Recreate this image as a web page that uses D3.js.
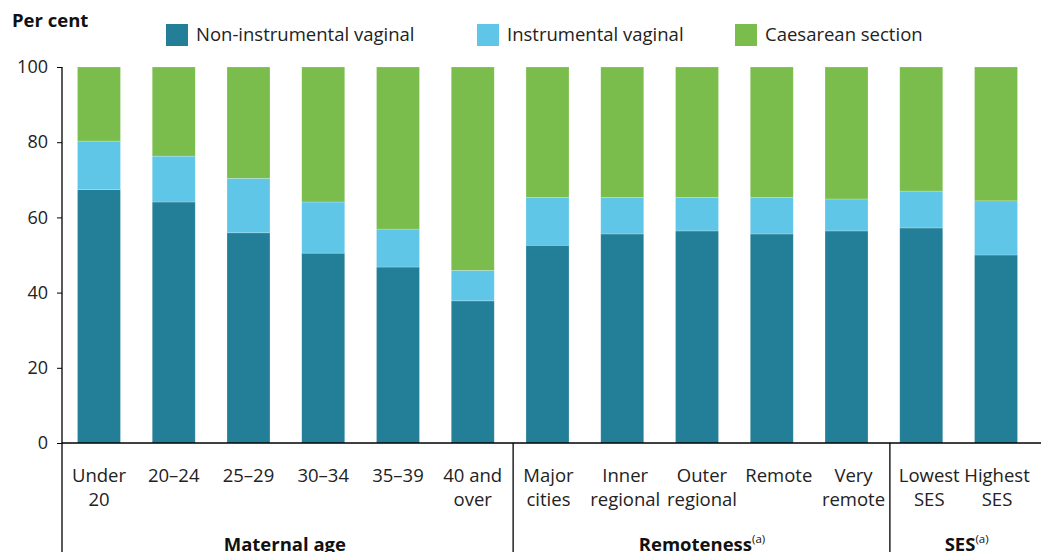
<!DOCTYPE html>
<html><head><meta charset="utf-8">
<script src="https://cdn.jsdelivr.net/npm/d3@7"></script>
<style>body{margin:0;background:#fff;}svg{display:block;font-family:"Open Sans",sans-serif;}</style>
</head><body>
<svg id="c" width="1041" height="552"></svg>
<script>
const categories = [
  ["Under","20"],["20–24"],["25–29"],["30–34"],["35–39"],["40 and","over"],
  ["Major","cities"],["Inner","regional"],["Outer","regional"],["Remote"],["Very","remote"],
  ["Lowest","SES"],["Highest","SES"]
];
const groups = [
  {name:"Maternal age", sup:"", count:6},
  {name:"Remoteness", sup:"(a)", count:5},
  {name:"SES", sup:"(a)", count:2}
];
const seriesNames = ["Non-instrumental vaginal","Instrumental vaginal","Caesarean section"];
const nonInstrumental = [67.4,64.1,55.9,50.5,46.8,37.8,52.6,55.6,56.4,55.6,56.4,57.2,50.0];
const instrumental    = [12.9,12.2,14.5,13.6,10.1, 8.1,12.7, 9.7, 8.9, 9.7, 8.5, 9.8,14.4];
const caesarean       = [19.7,23.7,29.6,35.9,43.1,54.1,34.7,34.7,34.7,34.7,35.1,33.0,35.6];
const yTicks = [0,20,40,60,80,100];
const colors = ["#237f97","#5fc6e7","#7bbd4d"];

const svg = d3.select("#c");
const x = d3.scaleBand().domain(d3.range(categories.length)).range([61.6,1033.4]).paddingInner(0.425).paddingOuter(0.2125);
const y = d3.scaleLinear().domain([0,100]).range([443,67]);

const rows = categories.map((c,i)=>({i, a:nonInstrumental[i], b:instrumental[i], c:caesarean[i]}));
const stack = d3.stack().keys(["a","b","c"])(rows);

svg.append("g").selectAll("g").data(stack).join("g")
  .attr("fill",(d,k)=>colors[k])
  .selectAll("rect").data(d=>d).join("rect")
  .attr("x",d=>x(d.data.i)).attr("width",x.bandwidth())
  .attr("y",d=>y(Math.min(d[1],100))).attr("height",d=>y(d[0])-y(Math.min(d[1],100)))
  .attr("stroke","rgba(255,255,255,0.35)").attr("stroke-width",0.6);

// y axis
const ya = svg.append("g").attr("transform","translate(62,0)")
  .call(d3.axisLeft(y).tickValues(yTicks).tickSize(5).tickPadding(9));
ya.select(".domain").remove();
ya.selectAll(".tick line").attr("stroke","#000");
ya.selectAll("text").attr("font-family","Open Sans").attr("font-size",18).attr("fill","#222");
svg.append("line").attr("x1",62).attr("x2",62).attr("y1",y(100)).attr("y2",552).attr("stroke","#000").attr("stroke-width",1.3);
// x axis line
svg.append("line").attr("x1",62).attr("x2",1041).attr("y1",y(0)).attr("y2",y(0)).attr("stroke","#000").attr("stroke-width",1.3);

// group separators and labels
let start = 0;
const sepOffsets = [3, 6];
groups.forEach((g,gi)=>{
  const end = start + g.count;
  if (end < categories.length) {
    const sx = (x(end-1)+x.bandwidth()+x(end))/2 + sepOffsets[gi];
    svg.append("line").attr("x1",sx).attr("x2",sx).attr("y1",y(0)).attr("y2",552).attr("stroke","#000").attr("stroke-width",1.3);
  }
  const cx = (x(start) + x(end-1) + x.bandwidth())/2 + (gi===0?-1:(gi===1?5:8));
  const t = svg.append("text").attr("x",cx).attr("y",551).attr("text-anchor","middle")
    .attr("font-size",18.5).attr("font-weight","bold").attr("fill","#111");
  t.append("tspan").text(g.name);
  if (g.sup) t.append("tspan").attr("dy",-8).attr("font-size",11.5).attr("font-weight","normal").text(g.sup);
  start = end;
});

// category labels
const labelShift = [0,0,0,0,0,0,1,3,5,7,7,8,1];
categories.forEach((lines,i)=>{
  const t = svg.append("text").attr("text-anchor","middle").attr("font-size",18.5).attr("fill","#222");
  lines.forEach((l,j)=>{
    t.append("tspan").attr("x",x(i)+x.bandwidth()/2+labelShift[i]).attr("y",482+j*24).text(l);
  });
});

// title
svg.append("text").attr("x",12).attr("y",27).attr("font-size",18.5).attr("font-weight","bold").attr("fill","#111").text("Per cent");

// legend
const legX = [166,477,735];
seriesNames.forEach((n,k)=>{
  svg.append("rect").attr("x",legX[k]).attr("y",24).attr("width",22).attr("height",22).attr("fill",colors[k]);
  svg.append("text").attr("x",legX[k]+30).attr("y",41).attr("font-size",18.5).attr("fill","#222").text(n);
});
</script>
</body></html>
